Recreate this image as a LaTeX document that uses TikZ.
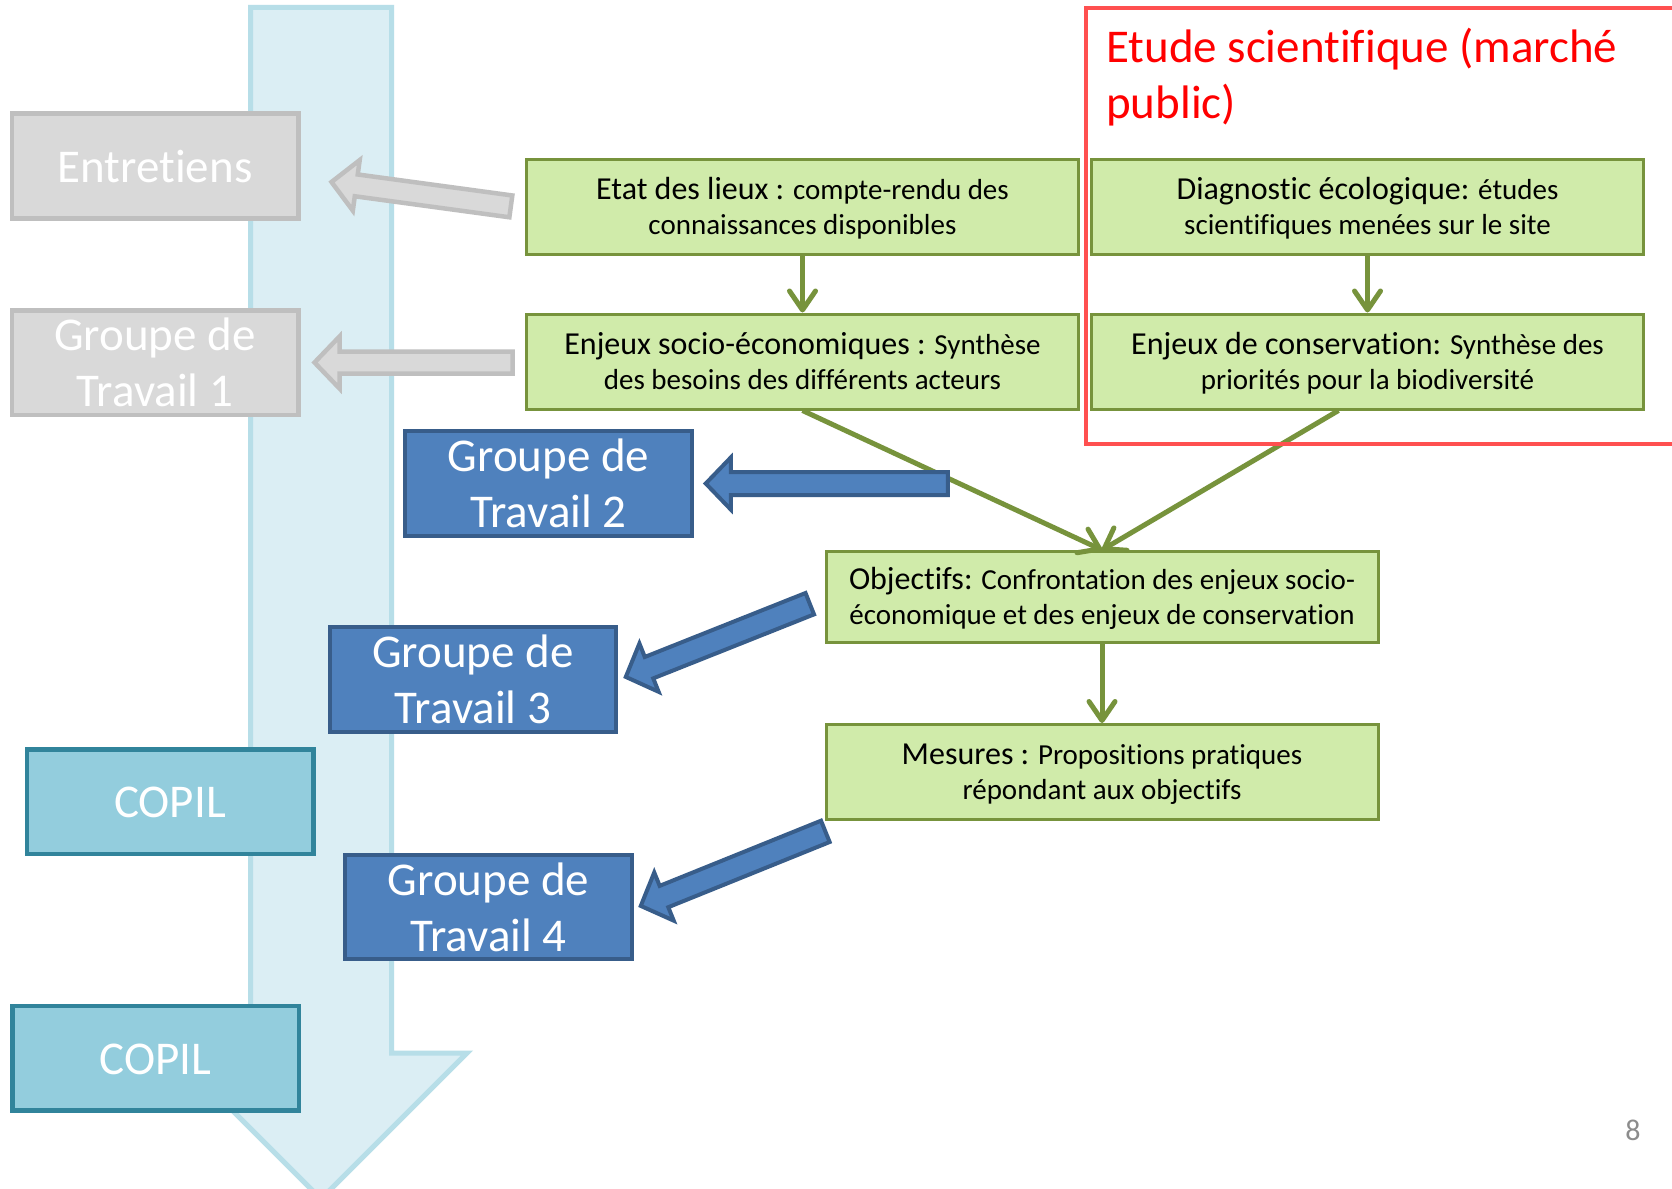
\documentclass[tikz,border=0pt]{standalone}
\usepackage{fontspec}
\setmainfont[Ligatures=NoCommon]{Carlito}
\usetikzlibrary{arrows.meta,calc}
\definecolor{gfill}{HTML}{D0EBAA}
\definecolor{gline}{HTML}{77933C}
\definecolor{bfill}{HTML}{4F81BD}
\definecolor{bline}{HTML}{385D8A}
\definecolor{tfill}{HTML}{93CDDD}
\definecolor{tline}{HTML}{31849B}
\definecolor{grfill}{HTML}{D9D9D9}
\definecolor{grline}{HTML}{BFBFBF}
\definecolor{afill}{HTML}{DBEEF4}
\definecolor{aline}{HTML}{B7DEE8}
\definecolor{redline}{HTML}{FF5050}
\definecolor{redtext}{HTML}{FF0000}
\definecolor{pgnum}{HTML}{8C8C8C}
\newcommand\hd{\fontsize{32}{35}\selectfont}
\newcommand\gtop{\rule{0pt}{27pt}}
\newcommand\gbot{\rule[-7pt]{0pt}{7pt}}
\newcommand\btop{\rule{0pt}{36pt}}
\newcommand\bbot{\rule[-4pt]{0pt}{4pt}}
% block arrow: #1 style, #2 tip coordinate, #3 angle (tip->tail), #4 length, #5 shaft width, #6 head width
\newcommand\blockarrow[6]{%
  \begin{scope}[shift={#2},rotate=#3]
    \draw[#1] (0,0) -- (25,#6/2) -- (25,#5/2) -- (#4,#5/2) -- (#4,-#5/2) -- (25,-#5/2) -- (25,-#6/2) -- cycle;
  \end{scope}}
\begin{document}
\begin{tikzpicture}[x=1pt,y=-1pt,
  greenbox/.style={draw=gline,fill=gfill,line width=3pt,minimum width=552pt,minimum height=95pt,
    inner sep=0pt,align=center,font=\fontsize{29}{35}\selectfont,text=black},
  labelbox/.style={line width=4.5pt,minimum width=286.5pt,minimum height=104.5pt,inner sep=0pt,
    align=center,font=\fontsize{47}{56}\selectfont,text=white},
  graybox/.style={labelbox,draw=grline,fill=grfill},
  bluebox/.style={labelbox,draw=bline,fill=bfill,line width=4pt},
  tealbox/.style={labelbox,draw=tline,fill=tfill},
  grayarrow/.style={draw=grline,fill=grfill,line width=4.5pt,line join=miter},
  bluearrow/.style={draw=bline,fill=bfill,line width=4pt,line join=miter},
  gconn/.style={draw=gline,line width=5pt,-{Straight Barb[length=19pt,width=26pt,round]}}
]
\useasboundingbox (0,0) rectangle (1672,1188);
\fill[white] (0,0) rectangle (1672,1188);

% big timeline arrow
\draw[fill=afill,draw=aline,line width=5pt,line join=miter]
  (250.5,7.5) -- (391.5,7.5) -- (391.5,1053) -- (467,1053) -- (321,1199)
  -- (175,1053) -- (250.5,1053) -- cycle;

% left gray boxes
\node[graybox] (entretiens) at (155,166) {\btop Entretiens\bbot};
\node[graybox] (gt1) at (155,362.5) {\btop Groupe de\\Travail 1\bbot};

% green boxes
\node[greenbox] (etat) at (802.5,207) {\gtop{\hd Etat des lieux :} compte-rendu des\\connaissances disponibles\gbot};
\node[greenbox] (ensoc) at (802.5,361.5) {\gtop{\hd Enjeux socio-économiques :} Synthèse\\des besoins des différents acteurs\gbot};
\node[greenbox] (diag) at (1367.5,207) {\gtop{\hd Diagnostic écologique:} études\\scientifiques menées sur le site\gbot};
\node[greenbox] (encons) at (1367.5,361.5) {\gtop{\hd Enjeux de conservation:} Synthèse des\\priorités pour la biodiversité\gbot};
\node[greenbox,minimum height=91pt] (objectifs) at (1102,597) {\gtop{\hd Objectifs:} Confrontation des enjeux socio-\\économique et des enjeux de conservation\gbot};
\node[greenbox] (mesures) at (1102,772) {\gtop{\hd Mesures :} Propositions pratiques\\répondant aux objectifs\gbot};

% gray block arrows
\coordinate (ga1tip) at ($(entretiens.east)+(31,16)$);
\coordinate (ga2tip) at ($(gt1.east)+(14,0)$);
\blockarrow{grayarrow}{(ga1tip)}{-7.74}{181}{22}{51}
\blockarrow{grayarrow}{(ga2tip)}{0}{198}{22}{52}

% green connectors
\draw[gconn] (etat.south) -- (ensoc.north);
\draw[gconn] (diag.south) -- (encons.north);
\draw[gconn] (ensoc.south) -- (objectifs.north);
\draw[gconn] ($(encons.south)+(-29,0)$) -- (objectifs.north);
\draw[gconn] (objectifs.south) -- (mesures.north);

% blue boxes
\node[bluebox] (gt2) at (548.5,483.5) {\btop Groupe de\\Travail 2\bbot};
\node[bluebox] (gt3) at (473,679.5) {\btop Groupe de\\Travail 3\bbot};
\node[bluebox] (gt4) at (488.5,907) {\btop Groupe de\\Travail 4\bbot};

% blue block arrows
\coordinate (ba2tip) at ($(gt2.east)+(12,0)$);
\coordinate (ba3tip) at (625.8,676.9);
\coordinate (ba4tip) at (640.8,905.9);
\blockarrow{bluearrow}{(ba2tip)}{0}{242}{23}{52}
\blockarrow{bluearrow}{(ba3tip)}{21.7}{198}{23}{52}
\blockarrow{bluearrow}{(ba4tip)}{22.0}{199}{23}{52}

% COPIL boxes
\node[tealbox] (copil1) at (170,801.5) {\btop COPIL\bbot};
\node[tealbox] (copil2) at (155.5,1058) {\btop COPIL\bbot};

% red frame and title
\draw[redline,line width=4pt] (1700,8) -- (1086,8) -- (1086,444) -- (1700,444);
\node[anchor=north west,inner sep=0pt,align=left,text=redtext,font=\fontsize{47}{56}\selectfont]
  (title) at (1106,22) {\rule{0pt}{40pt}Etude scientifique (marché\\public)};

% page number
\node[text=pgnum,font=\fontsize{30}{36}\selectfont,inner sep=0pt] (pg) at (1633,1130) {8};
\end{tikzpicture}
\end{document}
